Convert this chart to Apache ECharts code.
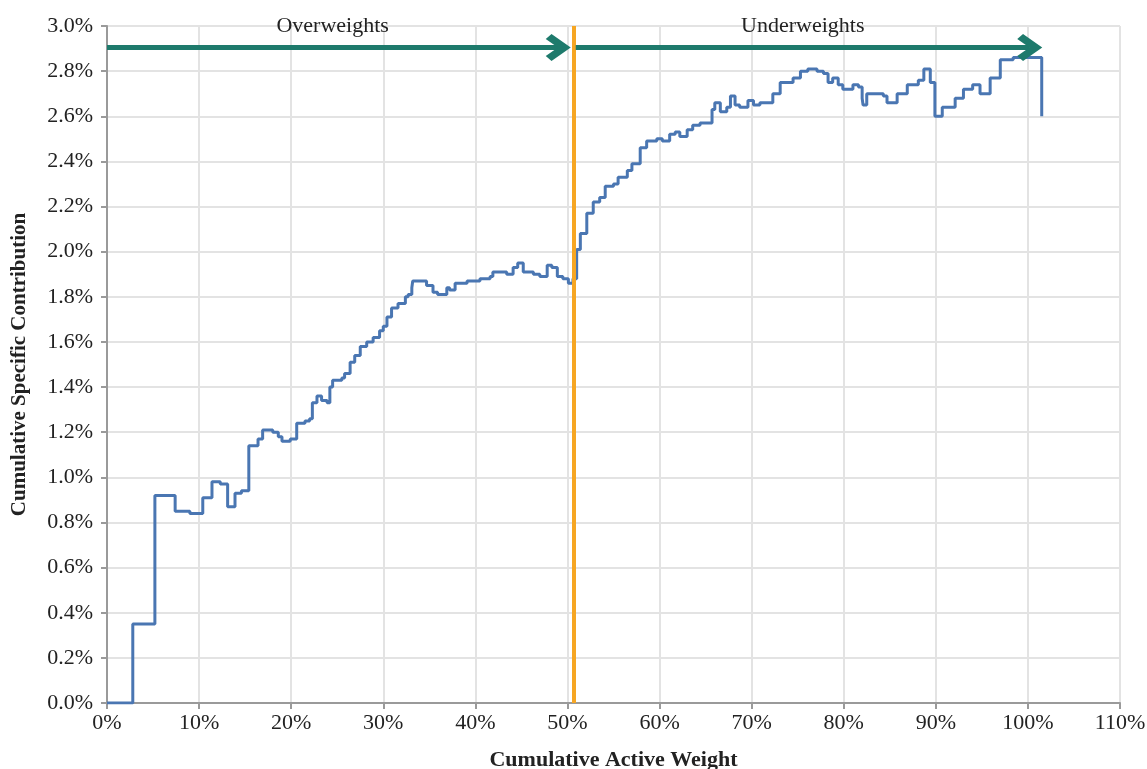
<!DOCTYPE html>
<html>
<head>
<meta charset="utf-8">
<script src="https://cdn.jsdelivr.net/npm/echarts@6/dist/echarts.min.js"></script>
<style>
  html, body { margin: 0; padding: 0; background: #fff; }
  #main { width: 1147px; height: 769px; }
</style>
</head>
<body>
<div id="main"></div>
<script>
// cumulative active weight (%) where each new level starts
const weights = [
  0, 2.8, 5.2, 7.4, 9.0, 10.4, 11.4, 12.3, 13.1, 13.9, 14.6, 15.4, 16.4, 16.9, 18.0, 18.6, 19.0, 19.9, 20.2,
  20.6, 21.5, 22.0, 22.3, 22.8, 23.3, 23.9, 24.2, 24.5, 25.5, 25.8, 26.4, 26.9, 27.5, 28.2, 28.9, 29.6, 30.0,
  30.4, 30.9, 31.6, 32.4, 32.7, 33.1, 33.2, 34.2, 34.7, 35.4, 35.9, 36.9, 37.2, 37.8, 39.1, 40.5, 41.6, 41.9,
  42.7, 43.4, 44.1, 44.6, 45.2, 46.3, 47.0, 47.8, 48.3, 48.9, 49.5, 50.1, 50.6, 51.0, 51.4, 52.1, 52.8, 53.5,
  54.1, 55.0, 55.5, 56.5, 57.0, 57.9, 58.6, 59.7, 60.3, 61.1, 61.7, 62.2, 63.0, 63.6, 64.4, 65.2, 65.7, 66.0,
  66.6, 67.3, 67.7, 68.2, 68.7, 69.6, 70.2, 70.9, 71.8, 72.3, 73.1, 73.8, 74.5, 75.3, 76.1, 77.1, 77.8, 78.3,
  78.8, 79.4, 79.9, 80.4, 81.0, 81.6, 82.0, 82.1, 82.5, 83.7, 84.3, 84.7, 85.2, 85.8, 86.9, 88.1, 88.7, 89.4,
  89.9, 90.7, 92.1, 93.0, 94.0, 94.8, 95.9, 97.0, 98.4, 101.5
];
// cumulative specific contribution (%)
const contribution = [
  0, 0.35, 0.92, 0.85, 0.84, 0.91, 0.98, 0.97, 0.87, 0.93, 0.94, 1.14, 1.17, 1.21, 1.20, 1.18, 1.16, 1.17, 1.17,
  1.24, 1.25, 1.26, 1.33, 1.36, 1.34, 1.33, 1.40, 1.43, 1.44, 1.46, 1.51, 1.54, 1.58, 1.60, 1.62, 1.65, 1.67,
  1.71, 1.75, 1.77, 1.80, 1.81, 1.84, 1.87, 1.87, 1.85, 1.82, 1.81, 1.84, 1.83, 1.86, 1.87, 1.88, 1.89, 1.91,
  1.91, 1.90, 1.93, 1.95, 1.91, 1.90, 1.89, 1.94, 1.93, 1.89, 1.88, 1.86, 1.88, 2.01, 2.08, 2.17, 2.22, 2.24,
  2.29, 2.30, 2.33, 2.36, 2.39, 2.46, 2.49, 2.50, 2.49, 2.52, 2.53, 2.51, 2.54, 2.56, 2.57, 2.57, 2.63, 2.66,
  2.62, 2.64, 2.69, 2.65, 2.64, 2.67, 2.65, 2.66, 2.66, 2.70, 2.75, 2.75, 2.77, 2.80, 2.81, 2.80, 2.79, 2.75,
  2.77, 2.74, 2.72, 2.72, 2.74, 2.73, 2.68, 2.65, 2.70, 2.70, 2.69, 2.66, 2.66, 2.70, 2.74, 2.76, 2.81, 2.75,
  2.60, 2.64, 2.68, 2.72, 2.74, 2.70, 2.77, 2.85, 2.86, 2.60
];

// split between overweights and underweights
const splitWeight = 50.7;

// annotation arrows: [label, start, end, level]
const arrows = [
  ['Overweights', 0, 49.0, 2.905],
  ['Underweights', 50.9, 100.2, 2.905]
];

const xTicks = { min: 0, max: 110, interval: 10 };
const yTicks = { min: 0, max: 3.0, interval: 0.2 };

const serif = '"Liberation Serif", "DejaVu Serif", serif';
// open arrow head, drawn pointing up (markLine turns it along the line)
const chevron = 'path://M12,0 L24,15 L19.5,19.5 L12,10 L4.5,19.5 L0,15 Z';

const myChart = echarts.init(document.getElementById('main'));

const option = {
  animation: false,
  grid: { left: 107, right: 27, top: 26, bottom: 66, outerBoundsMode: 'none' },
  xAxis: {
    type: 'value',
    min: xTicks.min,
    max: xTicks.max,
    interval: xTicks.interval,
    name: 'Cumulative Active Weight',
    nameLocation: 'middle',
    nameGap: 46,
    nameTextStyle: { fontFamily: serif, fontSize: 22, fontWeight: 'bold', color: '#222' },
    axisLine: { show: true, lineStyle: { color: '#9a9a9a', width: 2 } },
    axisTick: { show: true, length: 6, lineStyle: { color: '#9a9a9a', width: 2 } },
    axisLabel: { formatter: '{value}%', fontFamily: serif, fontSize: 22, color: '#222', margin: 9 },
    splitLine: { show: true, lineStyle: { color: '#e3e3e3', width: 2 } }
  },
  yAxis: {
    type: 'value',
    min: yTicks.min,
    max: yTicks.max,
    interval: yTicks.interval,
    name: 'Cumulative Specific Contribution',
    nameLocation: 'middle',
    nameGap: 77,
    nameTextStyle: { fontFamily: serif, fontSize: 21, fontWeight: 'bold', color: '#222' },
    axisLine: { show: true, lineStyle: { color: '#9a9a9a', width: 2 } },
    axisTick: { show: true, length: 6, lineStyle: { color: '#9a9a9a', width: 2 } },
    axisLabel: {
      formatter: (v) => v.toFixed(1) + '%',
      fontFamily: serif, fontSize: 22, color: '#222', margin: 14
    },
    splitLine: { show: true, lineStyle: { color: '#e3e3e3', width: 2 } }
  },
  series: [
    {
      type: 'line',
      step: 'end',
      symbol: 'none',
      data: weights.map((w, i) => [w, contribution[i]]),
      lineStyle: { color: '#4a76b2', width: 3 },
      z: 3
    },
    {
      type: 'line',
      data: [],
      z: 4,
      markLine: {
        silent: true,
        symbol: 'none',
        lineStyle: { color: '#f6a623', width: 4, type: 'solid' },
        label: { show: false },
        data: [{ xAxis: splitWeight }]
      }
    },
    {
      type: 'line',
      data: [],
      z: 5,
      markLine: {
        silent: true,
        symbol: ['none', chevron],
        symbolSize: [27, 25],
        lineStyle: { color: '#1e7a6c', width: 5, type: 'solid' },
        label: {
          show: true,
          position: 'insideMiddleTop',
          formatter: '{b}',
          distance: 10,
          fontFamily: serif,
          fontSize: 22,
          color: '#222'
        },
        data: arrows.map((a) => [
          { name: a[0], coord: [a[1], a[3]] },
          { coord: [a[2], a[3]] }
        ])
      }
    }
  ]
};

myChart.setOption(option);
</script>
</body>
</html>
